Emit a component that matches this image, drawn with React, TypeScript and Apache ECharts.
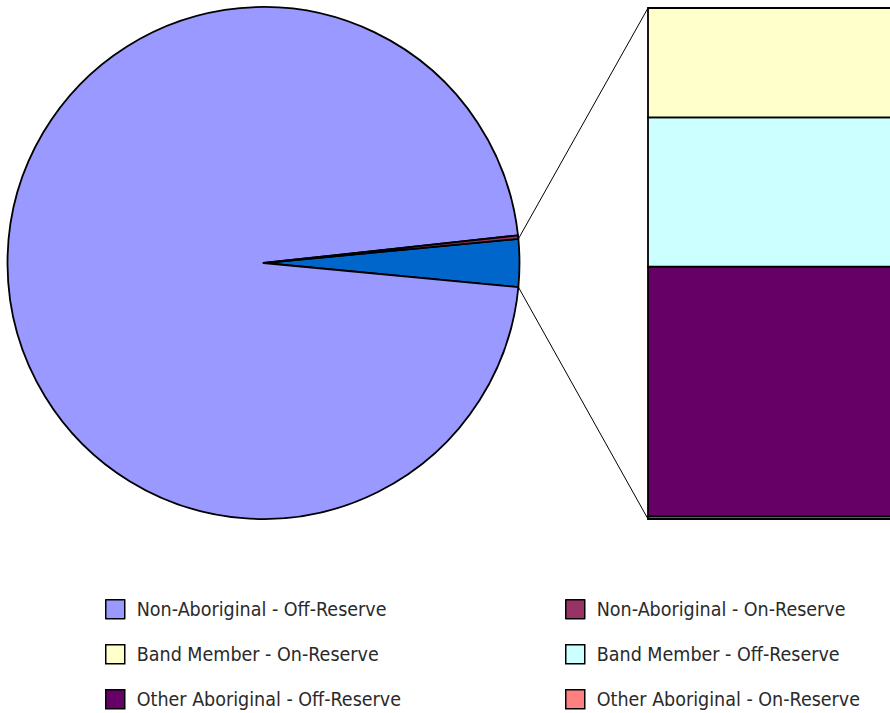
import React, { useEffect, useRef } from "react";
import * as echarts from "echarts";

const pieNames = ["Other", "Non-Aboriginal - Off-Reserve", "Non-Aboriginal - On-Reserve"];
const nonAboriginalOff = 96780;
const nonAboriginalOn = 220;
const barNames = [
  "Other Aboriginal - On-Reserve",
  "Other Aboriginal - Off-Reserve",
  "Band Member - Off-Reserve",
  "Band Member - On-Reserve",
];
const barValues = [15, 1467, 876, 642];
const barColors = ["#FF8080", "#660066", "#CCFFFF", "#FFFFCC"];
const pieColors = ["#0066CC", "#9999FF", "#993366"];
const legendLeft = ["Non-Aboriginal - Off-Reserve", "Band Member - On-Reserve", "Other Aboriginal - Off-Reserve"];
const legendRight = ["Non-Aboriginal - On-Reserve", "Band Member - Off-Reserve", "Other Aboriginal - On-Reserve"];

const FONT = "'Liberation Sans Narrow', 'Arial Narrow', 'DejaVu Sans Condensed', sans-serif";

export default function App() {
  const ref = useRef<HTMLDivElement>(null);
  useEffect(() => {
    document.body.style.margin = "0";
    if (!ref.current) return;
    const chart = echarts.init(ref.current, undefined, { renderer: "svg" });
    const otherTotal = barValues.reduce((a, b) => a + b, 0);
    const pieValues = [otherTotal, nonAboriginalOff, nonAboriginalOn];
    const total = pieValues.reduce((a, b) => a + b, 0);
    const otherAngle = (otherTotal / total) * 360;
    const startAngle = otherAngle / 2;
    const cx = 263.5, cy = 263, r = 256;
    const barLeft = 648, barTop = 8, barBottom = 519, barPixelWidth = 500;
    const a1 = (startAngle * Math.PI) / 180;
    const a2 = ((startAngle - otherAngle) * Math.PI) / 180;
    const p1 = [cx + r * Math.cos(a1), cy - r * Math.sin(a1)];
    const p2 = [cx + r * Math.cos(a2), cy - r * Math.sin(a2)];

    // stacked extents
    const bases: number[] = [];
    let acc = 0;
    barValues.forEach((v) => {
      bases.push(acc);
      acc += v;
    });

    const legendCommon = {
      orient: "vertical" as const,
      padding: 0,
      height: 300,
      itemWidth: 19,
      itemHeight: 19,
      itemGap: 24.5,
      icon: "rect",
      selectedMode: false,
      itemStyle: { borderColor: "#000", borderWidth: 1.5 },
      textStyle: { fontFamily: FONT, fontSize: 19.5, lineHeight: 19, color: "#2a2a2a", padding: [0, 0, 0, 7] },
    };

    chart.setOption({
      animation: false,
      legend: [
        { ...legendCommon, left: 105, top: 599, data: legendLeft },
        { ...legendCommon, left: 565, top: 599, data: legendRight },
      ],
      grid: { left: barLeft, top: barTop, width: 200, height: barBottom - barTop },
      xAxis: { type: "value", min: 0, max: 1, show: false },
      yAxis: { type: "value", min: 0, max: otherTotal, show: false },
      series: [
        {
          type: "pie",
          center: [cx, cy],
          radius: r,
          startAngle,
          clockwise: true,
          label: { show: false },
          labelLine: { show: false },
          emphasis: { disabled: true },
          itemStyle: { borderColor: "#000", borderWidth: 1.8 },
          data: pieNames.map((n, i) => ({ name: n, value: pieValues[i], itemStyle: { color: pieColors[i] } })),
        },
        ...barNames.map((n, i) => ({
          type: "custom",
          name: n,
          clip: false,
          itemStyle: { color: barColors[i] },
          data: [[0, bases[i], bases[i] + barValues[i]]],
          renderItem: (params: any, api: any) => {
            const lo = api.coord([api.value(0), api.value(1)]);
            const hi = api.coord([api.value(0), api.value(2)]);
            return {
              type: "rect",
              shape: { x: lo[0], y: hi[1], width: barPixelWidth, height: lo[1] - hi[1] },
              style: { fill: barColors[i], stroke: "#000", lineWidth: 1.8 },
            };
          },
          emphasis: { disabled: true },
        })),
      ],
      graphic: [
        { type: "line", shape: { x1: p1[0], y1: p1[1], x2: barLeft, y2: barTop }, style: { stroke: "#000", lineWidth: 1 } },
        { type: "line", shape: { x1: p2[0], y1: p2[1], x2: barLeft, y2: barBottom }, style: { stroke: "#000", lineWidth: 1 } },
      ],
    });
    return () => chart.dispose();
  }, []);
  return <div ref={ref} style={{ width: 890, height: 713 }} />;
}
